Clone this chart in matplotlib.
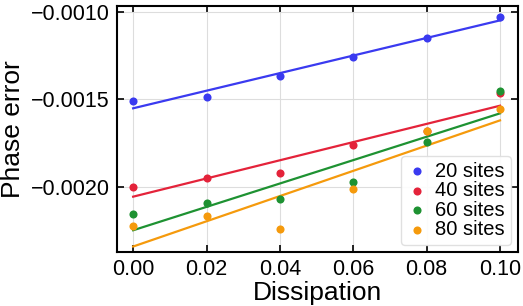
import numpy as np
import matplotlib
matplotlib.use("Agg")
import matplotlib.pyplot as plt
from matplotlib.ticker import FuncFormatter

# dissipation values and phase errors
dissipation = [0.00, 0.02, 0.04, 0.06, 0.08, 0.10]
err_20 = [-0.001511, -0.001483, -0.001363, -0.001260, -0.001149, -0.001029]
err_40 = [-0.002000, -0.001948, -0.001918, -0.001760, -0.001680, -0.001465]
err_60 = [-0.002156, -0.002090, -0.002070, -0.001970, -0.001742, -0.001450]
err_80 = [-0.002224, -0.002168, -0.002240, -0.002010, -0.001682, -0.001553]
labels = ["20 sites", "40 sites", "60 sites", "80 sites"]
colors = ["#3a3af0", "#e4233a", "#1e9232", "#f59a0c"]

plt.rcParams['font.family'] = ['Liberation Sans', 'DejaVu Sans']

fig = plt.figure(figsize=(5.23, 3.06), dpi=100)
ax = fig.add_axes([117 / 523, 1 - 252 / 306, 401 / 523, 246 / 306])

x = np.array(dissipation)
for ys, lab, c in zip([err_20, err_40, err_60, err_80], labels, colors):
    ax.scatter(x, ys, s=34, color=c, label=lab, zorder=3, linewidths=0)
    # linear fit through the points
    k, b = np.polyfit(x, ys, 1)
    ax.plot(x, k * x + b, color=c, lw=1.6, zorder=2)

ax.set_xlim(-0.0044, 0.1049)
ax.set_ylim(-0.002371, -0.000966)
ax.set_xticks([0.00, 0.02, 0.04, 0.06, 0.08, 0.10])
ax.set_yticks([-0.0020, -0.0015, -0.0010])
ax.xaxis.set_major_formatter(FuncFormatter(lambda v, p: f"{v:.2f}"))
ax.yaxis.set_major_formatter(FuncFormatter(lambda v, p: f"{v:.4f}".replace("-", "\u2212")))
ax.grid(True, color="#dddddd", lw=0.8, zorder=0)
ax.tick_params(direction='in', top=True, right=True, length=5, width=1.2,
               labelsize=15.5, pad=5)
for sp in ax.spines.values():
    sp.set_linewidth(1.5)

ax.set_xlabel("Dissipation", fontsize=19, labelpad=1)
ax.set_ylabel("Phase error", fontsize=19, labelpad=4)

ax.legend(loc='lower right', fontsize=14.5, handletextpad=0.4, borderpad=0.3,
          labelspacing=0.02, handlelength=1.0, framealpha=0.9, edgecolor="#dddddd",
          borderaxespad=0.35)

fig.savefig("out.png", dpi=100)
